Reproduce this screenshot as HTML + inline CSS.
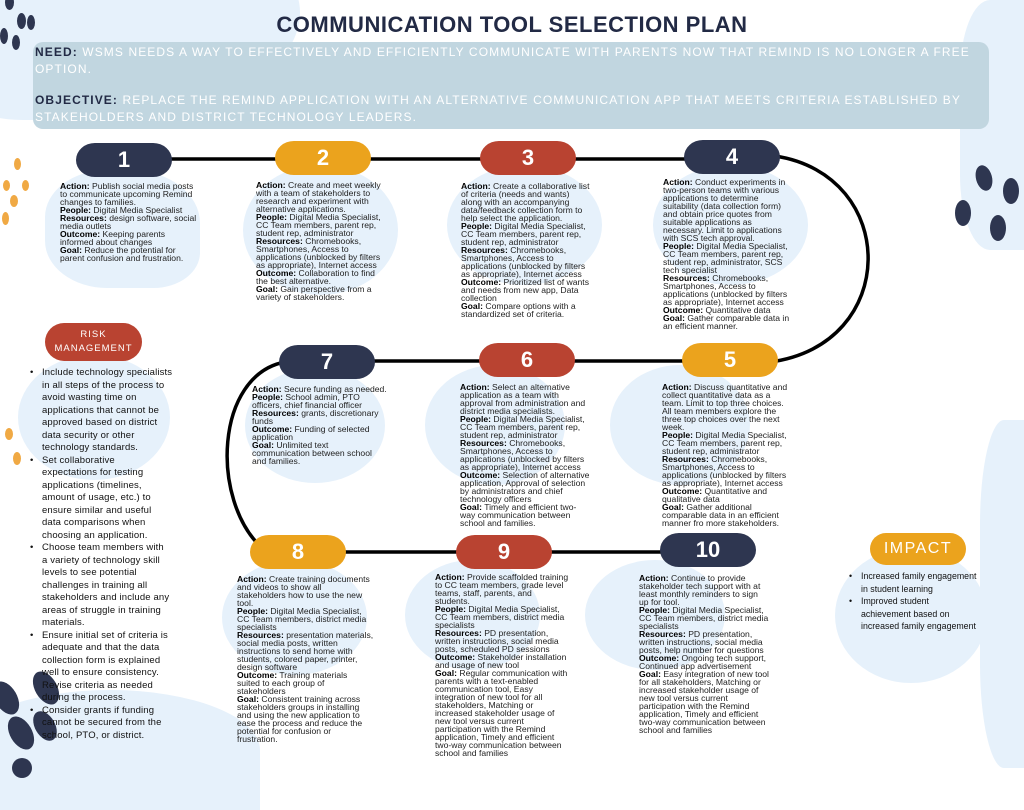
<!DOCTYPE html>
<html><head><meta charset="utf-8"><style>
*{margin:0;padding:0;box-sizing:border-box}
html,body{width:1024px;height:768px}
body{position:relative;overflow:hidden;background:#fff;font-family:"Liberation Sans",sans-serif;color:#1e1e1e}
.a{position:absolute}
.blob{position:absolute;background:#e6f1fb;border-radius:50%}
.pill{position:absolute;border-radius:20px/18px;color:#fff;text-align:center;font-size:22px;font-weight:bold;line-height:34px;height:34px;width:96px}
.n{background:#2e3650}.o{background:#eba31d}.r{background:#b94331}
.t{position:absolute;font-size:8.6px;line-height:8px;white-space:nowrap;color:#222}
.t b{color:#000}
.dot{position:absolute;border-radius:50%}
.dn{background:#2e3650}.do{background:#f0a944}
ul{list-style:none}
.lst li{position:relative;padding-left:12px;white-space:nowrap}
.lst li:before{content:"•";position:absolute;left:0}
</style></head><body>
<div class="blob" style="left:-60px;top:-80px;width:360px;height:200px;border-radius:40% 60% 70% 30%"></div>
<div class="blob" style="left:960px;top:0;width:100px;height:250px;border-radius:30%"></div>
<div class="blob" style="left:980px;top:420px;width:80px;height:348px;border-radius:30%"></div>
<div class="blob" style="left:-40px;top:690px;width:300px;height:120px;border-radius:50% 50% 0 0"></div>
<div class="blob" style="left:45px;top:170px;width:155px;height:118px;border-radius:40% 45% 30% 40%"></div>
<div class="blob" style="left:243px;top:165px;width:155px;height:130px"></div>
<div class="blob" style="left:447px;top:165px;width:155px;height:120px"></div>
<div class="blob" style="left:653px;top:165px;width:155px;height:120px"></div>
<div class="blob" style="left:245px;top:368px;width:140px;height:115px"></div>
<div class="blob" style="left:425px;top:365px;width:140px;height:120px"></div>
<div class="blob" style="left:610px;top:365px;width:140px;height:120px"></div>
<div class="blob" style="left:222px;top:560px;width:145px;height:115px"></div>
<div class="blob" style="left:405px;top:560px;width:135px;height:110px"></div>
<div class="blob" style="left:585px;top:560px;width:140px;height:110px"></div>
<div class="blob" style="left:18px;top:355px;width:152px;height:125px"></div>
<div class="blob" style="left:835px;top:548px;width:152px;height:135px"></div>
<div class="dot dn" style="left:5px;top:-5px;width:9px;height:15px"></div>
<div class="dot dn" style="left:17px;top:13px;width:9px;height:16px"></div>
<div class="dot dn" style="left:27px;top:15px;width:8px;height:15px"></div>
<div class="dot dn" style="left:0;top:28px;width:8px;height:16px"></div>
<div class="dot dn" style="left:12px;top:35px;width:8px;height:15px"></div>
<div class="dot do" style="left:14px;top:158px;width:7px;height:12px"></div>
<div class="dot do" style="left:3px;top:180px;width:7px;height:11px"></div>
<div class="dot do" style="left:22px;top:180px;width:7px;height:11px"></div>
<div class="dot do" style="left:10px;top:195px;width:8px;height:12px"></div>
<div class="dot do" style="left:2px;top:212px;width:7px;height:13px"></div>
<div class="dot do" style="left:5px;top:428px;width:8px;height:12px"></div>
<div class="dot do" style="left:13px;top:452px;width:8px;height:13px"></div>
<div class="dot dn" style="left:976px;top:165px;width:16px;height:26px;transform:rotate(-15deg)"></div>
<div class="dot dn" style="left:1003px;top:178px;width:16px;height:26px"></div>
<div class="dot dn" style="left:955px;top:200px;width:16px;height:26px"></div>
<div class="dot dn" style="left:990px;top:215px;width:16px;height:26px"></div>
<div class="dot dn" style="left:35px;top:670px;width:22px;height:36px;transform:rotate(-30deg)"></div>
<div class="dot dn" style="left:-5px;top:680px;width:22px;height:36px;transform:rotate(-30deg)"></div>
<div class="dot dn" style="left:10px;top:715px;width:22px;height:36px;transform:rotate(-30deg)"></div>
<div class="dot dn" style="left:35px;top:710px;width:20px;height:32px;transform:rotate(-30deg)"></div>
<div class="dot dn" style="left:12px;top:758px;width:20px;height:20px"></div>

<div class="a" style="left:0;width:1024px;top:12px;text-align:center;font-size:22px;font-weight:bold;color:#222a45;letter-spacing:0.5px">COMMUNICATION TOOL SELECTION PLAN</div>
<div class="a" style="left:33px;top:42px;width:956px;height:87px;background:#c1d6e0;border-radius:10px"></div>
<div class="a" style="left:35px;top:44px;width:950px;font-size:12px;line-height:17px;color:#fff;letter-spacing:1.1px;white-space:nowrap"><b style="color:#222a45">NEED:</b> WSMS NEEDS A WAY TO EFFECTIVELY AND EFFICIENTLY COMMUNICATE WITH PARENTS NOW THAT REMIND IS NO LONGER A FREE<br>OPTION.<br><div style="height:14px"></div><b style="color:#222a45">OBJECTIVE:</b> REPLACE THE REMIND APPLICATION WITH AN ALTERNATIVE COMMUNICATION APP THAT MEETS CRITERIA ESTABLISHED BY<br>STAKEHOLDERS AND DISTRICT TECHNOLOGY LEADERS.</div>

<svg class="a" style="left:0;top:0" width="1024" height="768">
<g fill="none" stroke="#000" stroke-width="3.5">
<line x1="123" y1="159" x2="732" y2="159"/>
<path d="M775 156 C900 175 900 345 770 362"/>
<line x1="325" y1="361" x2="729" y2="361"/>
<path d="M285 362 C215 375 210 500 262 548"/>
<line x1="298" y1="552" x2="706" y2="552"/>
</g></svg>

<div class="pill n" style="left:76px;top:143px">1</div>
<div class="pill o" style="left:275px;top:141px">2</div>
<div class="pill r" style="left:480px;top:141px">3</div>
<div class="pill n" style="left:684px;top:140px">4</div>
<div class="pill n" style="left:279px;top:345px">7</div>
<div class="pill r" style="left:479px;top:343px">6</div>
<div class="pill o" style="left:682px;top:343px">5</div>
<div class="pill o" style="left:250px;top:535px">8</div>
<div class="pill r" style="left:456px;top:535px">9</div>
<div class="pill n" style="left:660px;top:533px">10</div>

<div class="t" style="left:60px;top:182px"><b>Action:</b> Publish social media posts<br>to communicate upcoming Remind<br>changes to families.<br><b>People:</b> Digital Media Specialist<br><b>Resources:</b> design software, social<br>media outlets<br><b>Outcome:</b> Keeping parents<br>informed about changes<br><b>Goal:</b> Reduce the potential for<br>parent confusion and frustration.</div>
<div class="t" style="left:256px;top:181px"><b>Action:</b> Create and meet weekly<br>with a team of stakeholders to<br>research and experiment with<br>alternative applications.<br><b>People:</b> Digital Media Specialist,<br>CC Team members, parent rep,<br>student rep, administrator<br><b>Resources:</b> Chromebooks,<br>Smartphones, Access to<br>applications (unblocked by filters<br>as appropriate), Internet access<br><b>Outcome:</b> Collaboration to find<br>the best alternative.<br><b>Goal:</b> Gain perspective from a<br>variety of stakeholders.</div>
<div class="t" style="left:461px;top:182px"><b>Action:</b> Create a collaborative list<br>of criteria (needs and wants)<br>along with an accompanying<br>data/feedback collection form to<br>help select the application.<br><b>People:</b> Digital Media Specialist,<br>CC Team members, parent rep,<br>student rep, administrator<br><b>Resources:</b> Chromebooks,<br>Smartphones, Access to<br>applications (unblocked by filters<br>as appropriate), Internet access<br><b>Outcome:</b> Prioritized list of wants<br>and needs from new app, Data<br>collection<br><b>Goal:</b> Compare options with a<br>standardized set of criteria.</div>
<div class="t" style="left:663px;top:178px"><b>Action:</b> Conduct experiments in<br>two-person teams with various<br>applications to determine<br>suitability (data collection form)<br>and obtain price quotes from<br>suitable applications as<br>necessary. Limit to applications<br>with SCS tech approval.<br><b>People:</b> Digital Media Specialist,<br>CC Team members, parent rep,<br>student rep, administrator, SCS<br>tech specialist<br><b>Resources:</b> Chromebooks,<br>Smartphones, Access to<br>applications (unblocked by filters<br>as appropriate), Internet access<br><b>Outcome:</b> Quantitative data<br><b>Goal:</b> Gather comparable data in<br>an efficient manner.</div>
<div class="t" style="left:252px;top:385px"><b>Action:</b> Secure funding as needed.<br><b>People:</b> School admin, PTO<br>officers, chief financial officer<br><b>Resources:</b> grants, discretionary<br>funds<br><b>Outcome:</b> Funding of selected<br>application<br><b>Goal:</b> Unlimited text<br>communication between school<br>and families.</div>
<div class="t" style="left:460px;top:383px"><b>Action:</b> Select an alternative<br>application as a team with<br>approval from administration and<br>district media specialists.<br><b>People:</b> Digital Media Specialist,<br>CC Team members, parent rep,<br>student rep, administrator<br><b>Resources:</b> Chromebooks,<br>Smartphones, Access to<br>applications (unblocked by filters<br>as appropriate), Internet access<br><b>Outcome:</b> Selection of alternative<br>application, Approval of selection<br>by administrators and chief<br>technology officers<br><b>Goal:</b> Timely and efficient two-<br>way communication between<br>school and families.</div>
<div class="t" style="left:662px;top:383px"><b>Action:</b> Discuss quantitative and<br>collect quantitative data as a<br>team. Limit to top three choices.<br>All team members explore the<br>three top choices over the next<br>week.<br><b>People:</b> Digital Media Specialist,<br>CC Team members, parent rep,<br>student rep, administrator<br><b>Resources:</b> Chromebooks,<br>Smartphones, Access to<br>applications (unblocked by filters<br>as appropriate), Internet access<br><b>Outcome:</b> Quantitative and<br>qualitative data<br><b>Goal:</b> Gather additional<br>comparable data in an efficient<br>manner fro more stakeholders.</div>
<div class="t" style="left:237px;top:575px"><b>Action:</b> Create training documents<br>and videos to show all<br>stakeholders how to use the new<br>tool.<br><b>People:</b> Digital Media Specialist,<br>CC Team members, district media<br>specialists<br><b>Resources:</b> presentation materials,<br>social media posts, written<br>instructions to send home with<br>students, colored paper, printer,<br>design software<br><b>Outcome:</b> Training materials<br>suited to each group of<br>stakeholders<br><b>Goal:</b> Consistent training across<br>stakeholders groups in installing<br>and using the new application to<br>ease the process and reduce the<br>potential for confusion or<br>frustration.</div>
<div class="t" style="left:435px;top:573px"><b>Action:</b> Provide scaffolded training<br>to CC team members, grade level<br>teams, staff, parents, and<br>students.<br><b>People:</b> Digital Media Specialist,<br>CC Team members, district media<br>specialists<br><b>Resources:</b> PD presentation,<br>written instructions, social media<br>posts, scheduled PD sessions<br><b>Outcome:</b> Stakeholder installation<br>and usage of new tool<br><b>Goal:</b> Regular communication with<br>parents with a text-enabled<br>communication tool, Easy<br>integration of new tool for all<br>stakeholders, Matching or<br>increased stakeholder usage of<br>new tool versus current<br>participation with the Remind<br>application, Timely and efficient<br>two-way communication between<br>school and families</div>
<div class="t" style="left:639px;top:574px"><b>Action:</b> Continue to provide<br>stakeholder tech support with at<br>least monthly reminders to sign<br>up for tool.<br><b>People:</b> Digital Media Specialist,<br>CC Team members, district media<br>specialists<br><b>Resources:</b> PD presentation,<br>written instructions, social media<br>posts, help number for questions<br><b>Outcome:</b> Ongoing tech support,<br>Continued app advertisement<br><b>Goal:</b> Easy integration of new tool<br>for all stakeholders, Matching or<br>increased stakeholder usage of<br>new tool versus current<br>participation with the Remind<br>application, Timely and efficient<br>two-way communication between<br>school and families</div>

<div class="a r" style="left:45px;top:323px;width:97px;height:38px;border-radius:20px;color:#fff;text-align:center;font-size:9.5px;line-height:14px;padding-top:5px;letter-spacing:1px">RISK<br>MANAGEMENT</div>
<ul class="a lst" style="left:30px;top:367px;width:150px;font-size:9.5px;line-height:12.5px;color:#111;letter-spacing:0.15px">
<li>Include technology specialists<br>in all steps of the process to<br>avoid wasting time on<br>applications that cannot be<br>approved based on district<br>data security or other<br>technology standards.</li>
<li>Set collaborative<br>expectations for testing<br>applications (timelines,<br>amount of usage, etc.) to<br>ensure similar and useful<br>data comparisons when<br>choosing an application.</li>
<li>Choose team members with<br>a variety of technology skill<br>levels to see potential<br>challenges in training all<br>stakeholders and include any<br>areas of struggle in training<br>materials.</li>
<li>Ensure initial set of criteria is<br>adequate and that the data<br>collection form is explained<br>well to ensure consistency.<br>Revise criteria as needed<br>during the process.</li>
<li>Consider grants if funding<br>cannot be secured from the<br>school, PTO, or district.</li>
</ul>

<div class="a o" style="left:870px;top:533px;width:96px;height:32px;border-radius:18px;color:#fff;text-align:center;font-size:16px;line-height:32px;letter-spacing:1.5px">IMPACT</div>
<ul class="a lst" style="left:849px;top:570px;width:150px;font-size:8.8px;line-height:12.5px;color:#111">
<li>Increased family engagement<br>in student learning</li>
<li>Improved student<br>achievement based on<br>increased family engagement</li>
</ul>
</body></html>
